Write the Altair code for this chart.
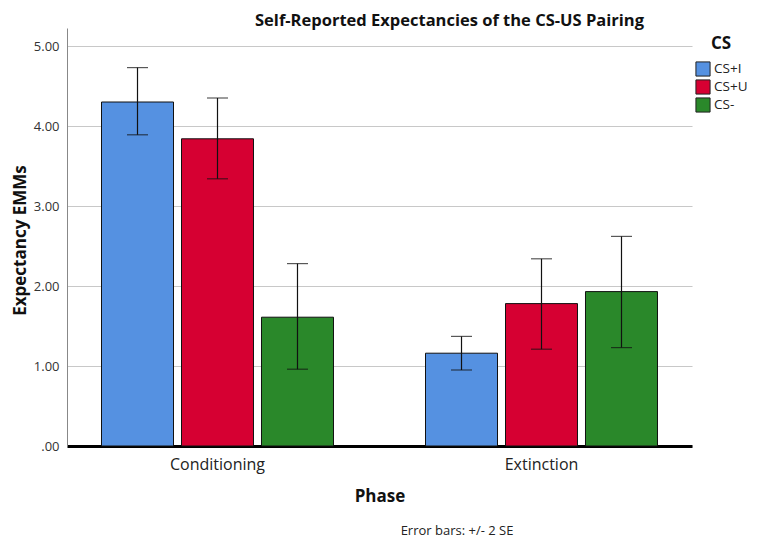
import altair as alt
import pandas as pd

phases = ["Conditioning", "Conditioning", "Conditioning", "Extinction", "Extinction", "Extinction"]
cs_levels = ["CS+I", "CS+U", "CS-", "CS+I", "CS+U", "CS-"]
means = [4.30, 3.84, 1.61, 1.16, 1.78, 1.93]
lower = [3.89, 3.34, 0.96, 0.95, 1.21, 1.23]
upper = [4.73, 4.35, 2.28, 1.37, 2.34, 2.62]
cs_order = ["CS+I", "CS+U", "CS-"]
cs_colors = ["#5591e1", "#d60032", "#2a882a"]

df = pd.DataFrame({"Phase": phases, "CS": cs_levels, "mean": means, "lo": lower, "hi": upper})

FONT = "Open Sans"

x = alt.X("Phase:N", title="Phase",
          scale=alt.Scale(paddingInner=0.284, paddingOuter=0.1065),
          axis=alt.Axis(labelAngle=0, labelFontSize=16, labelColor="#222", labelPadding=10,
                        titleFontSize=17, titleFontWeight="bold", titleColor="#111", titlePadding=16,
                        domainColor="#000", domainWidth=3, ticks=False, labelFont=FONT, titleFont=FONT))
xoff = alt.XOffset("CS:N", sort=cs_order, scale=alt.Scale(paddingInner=0.1, paddingOuter=0))
yscale = alt.Scale(domain=[0, 5.225], nice=False)

base = alt.Chart(df)

bars = base.mark_bar(stroke="#111", strokeWidth=1).encode(
    x=x,
    xOffset=xoff,
    y=alt.Y("mean:Q", scale=yscale, title="Expectancy EMMs",
            axis=alt.Axis(values=[0, 1, 2, 3, 4, 5],
                          labelExpr="datum.value == 0 ? '.00' : format(datum.value, '.2f')",
                          labelFontSize=13, labelColor="#333", labelPadding=8, ticks=False,
                          titleFontSize=17, titleFontWeight="bold", titleColor="#111",
                          titleX=-47, titleY=212, titleBaseline="middle", titleAlign="center",
                          gridColor="#c8c8c8", gridWidth=1.2, domainColor="#888", domainWidth=1,
                          labelFont=FONT, titleFont=FONT)),
    color=alt.Color("CS:N", sort=cs_order,
                    scale=alt.Scale(domain=cs_order, range=cs_colors),
                    legend=alt.Legend(title=None, orient="none", legendX=628, legendY=33,
                                      labelFontSize=13.5, labelFont=FONT, labelColor="#222",
                                      symbolType="square", symbolSize=200, symbolStrokeColor="#222",
                                      symbolStrokeWidth=1, symbolOpacity=1, rowPadding=-3, labelOffset=3)),
)

rule = base.mark_rule(color="#111", strokeWidth=1.2).encode(
    x=x, xOffset=xoff, y=alt.Y("lo:Q", scale=yscale), y2="hi:Q")

cap_hi = base.mark_tick(color="#111", thickness=1.2, size=21).encode(
    x=x, xOffset=xoff, y=alt.Y("hi:Q", scale=yscale))
cap_lo = base.mark_tick(color="#111", thickness=1.2, size=21).encode(
    x=x, xOffset=xoff, y=alt.Y("lo:Q", scale=yscale))

legend_title = alt.Chart(pd.DataFrame({"t": ["CS"]})).mark_text(
    fontSize=17, font=FONT, fontWeight="bold", color="#111", align="left", baseline="middle").encode(
    text="t:N", x=alt.value(644), y=alt.value(16))

note = alt.Chart(pd.DataFrame({"t": ["Error bars: +/- 2 SE"]})).mark_text(
    fontSize=13, font=FONT, color="#222", align="center", baseline="middle").encode(
    text="t:N", x=alt.value(390), y=alt.value(503))

chart = alt.layer(bars, rule, cap_hi, cap_lo, legend_title, note).properties(
    width=625, height=418,
    autosize=alt.AutoSizeParams(type="none"),
    padding={"left": 59, "top": 20, "right": 58, "bottom": 92},
    title=alt.TitleParams("Self-Reported Expectancies of the CS-US Pairing", fontSize=16.5,
                          fontWeight="bold", font=FONT, color="#111", anchor="middle",
                          dx=70, dy=6, offset=5),
).configure_view(stroke=None)

chart.save("out.html", embed_options={"renderer": "svg", "actions": False})
